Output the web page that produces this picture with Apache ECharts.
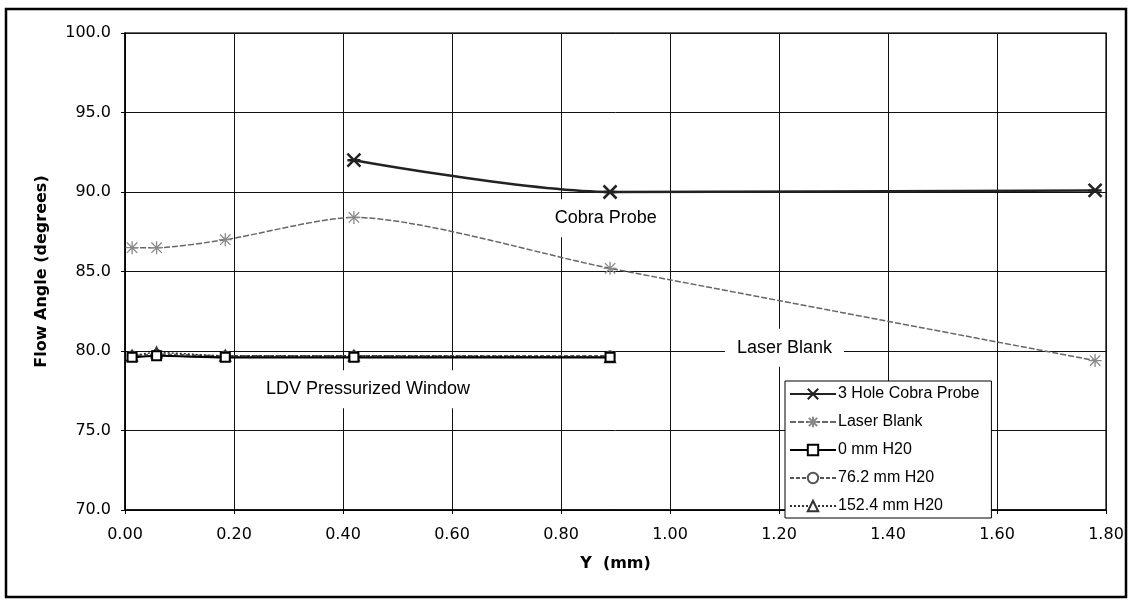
<!DOCTYPE html>
<html>
<head>
<meta charset="utf-8">
<script src="https://cdn.jsdelivr.net/npm/echarts@6/dist/echarts.min.js"></script>
<style>
html,body{margin:0;padding:0;background:#fff;}
#chart{width:1128px;height:600px;}
</style>
</head>
<body>
<div id="chart"></div>
<script>
// ---- data ----
const xCobra = [0.42, 0.89, 1.78];
const cobra = [92.0, 90.0, 90.1];

const xLaser = [0.013, 0.058, 0.184, 0.42, 0.89, 1.78];
const laser = [86.5, 86.5, 87.0, 88.4, 85.2, 79.4];

const xLdv = [0.013, 0.058, 0.184, 0.42, 0.89];
const h0 = [79.6, 79.7, 79.6, 79.6, 79.6];
const h76 = [79.7, 79.8, 79.7, 79.7, 79.7];
const h152 = [79.7, 79.9, 79.7, 79.7, 79.6];

const seriesNames = ['3 Hole Cobra Probe', 'Laser Blank', '0 mm H20', '76.2 mm H20', '152.4 mm H20'];
const xTitle = 'Y  (mm)';
const yTitle = 'Flow Angle (degrees)';

const notes = [
  {text: 'Cobra Probe', x: 0.882, y: 88.35},
  {text: 'Laser Blank', x: 1.21, y: 80.2},
  {text: 'LDV Pressurized Window', x: 0.446, y: 77.6}
];
// ---------------------------------------

const pair = (xs, ys) => xs.map((x, i) => [x, ys[i]]);
const starPath = 'path://M0,0L10,10M10,0L0,10M0,5L10,5';
const starPath2 = 'path://M1,1L9,9M9,1L1,9M0,5L10,5M5,0L5,10';

const chart = echarts.init(document.getElementById('chart'), null, {renderer: 'canvas'});

const tickFont = {color: '#000', fontFamily: 'DejaVu Sans', fontSize: 16};
const titleFont = {color: '#000', fontFamily: 'DejaVu Sans', fontWeight: 'bold', fontSize: 16};

const option = {
  animation: false,
  backgroundColor: '#fff',
  grid: {left: 125, right: 22, top: 33, bottom: 90, show: true, borderColor: '#333', borderWidth: 1.5},
  xAxis: {
    type: 'value', min: 0, max: 1.8, interval: 0.2,
    name: xTitle, nameLocation: 'middle', nameGap: 46,
    nameTextStyle: titleFont,
    axisLine: {show: true, lineStyle: {color: '#000', width: 1.5}},
    axisTick: {show: true, length: 4, lineStyle: {color: '#000'}},
    axisLabel: Object.assign({margin: 17, formatter: v => v.toFixed(2)}, tickFont),
    splitLine: {show: true, lineStyle: {color: '#111', width: 1}}
  },
  yAxis: {
    type: 'value', min: 70, max: 100, interval: 5,
    name: yTitle, nameLocation: 'middle', nameGap: 75, nameRotate: 90,
    nameTextStyle: titleFont,
    axisLine: {show: true, lineStyle: {color: '#000', width: 1.5}},
    axisTick: {show: true, length: 4, lineStyle: {color: '#000'}},
    axisLabel: Object.assign({margin: 14, formatter: v => v.toFixed(1)}, tickFont),
    splitLine: {show: true, lineStyle: {color: '#111', width: 1}}
  },
  legend: {
    orient: 'vertical', left: 785, top: 381,
    backgroundColor: '#fff', borderColor: '#000', borderWidth: 1,
    padding: [5, 12, 4, 4],
    itemWidth: 46, itemHeight: 13, itemGap: 12,
    textStyle: {color: '#000', fontFamily: 'Liberation Sans', fontSize: 16, padding: [0, 0, 0, -3]},
    data: seriesNames,
    z: 20
  },
  series: [
    {
      name: seriesNames[0], type: 'line', smooth: 0.3, data: pair(xCobra, cobra),
      symbol: starPath, symbolSize: 13,
      lineStyle: {color: '#222', width: 2.5},
      itemStyle: {color: '#222', borderColor: '#222', borderWidth: 2.5},
      z: 5
    },
    {
      name: seriesNames[1], type: 'line', smooth: 0.25, data: pair(xLaser, laser),
      symbol: starPath2, symbolSize: 13,
      lineStyle: {color: '#666', width: 1.5, type: [6, 2]},
      itemStyle: {color: '#888', borderColor: '#888', borderWidth: 1.3},
      z: 4
    },
    {
      name: seriesNames[2], type: 'line', smooth: 0.3, data: pair(xLdv, h0),
      symbol: 'emptyRect', symbolSize: 9,
      lineStyle: {color: '#000', width: 2.2},
      itemStyle: {color: '#000', borderColor: '#000', borderWidth: 1.5},
      z: 6
    },
    {
      name: seriesNames[3], type: 'line', smooth: 0.3, data: pair(xLdv, h76),
      symbol: 'emptyCircle', symbolSize: 9,
      lineStyle: {color: '#555', width: 1.5, type: [4, 2]},
      itemStyle: {color: '#555', borderColor: '#555', borderWidth: 1.5},
      z: 5
    },
    {
      name: seriesNames[4], type: 'line', smooth: 0.3, data: pair(xLdv, h152),
      symbol: 'emptyTriangle', symbolSize: 10,
      lineStyle: {color: '#333', width: 1.5, type: [2, 2]},
      itemStyle: {color: '#333', borderColor: '#333', borderWidth: 1.5},
      z: 5
    }
  ]
};

chart.setOption(option);

const graphics = notes.map(n => {
  const p = chart.convertToPixel({gridIndex: 0}, [n.x, n.y]);
  return {
    type: 'text', x: p[0], y: p[1], z: 3,
    style: {
      text: n.text, font: '18px "Liberation Sans", Arial, sans-serif', fill: '#000',
      align: 'center', verticalAlign: 'middle',
      backgroundColor: '#fff', padding: [10, 12]
    }
  };
});
graphics.push({
  type: 'rect', z: 30, silent: true,
  shape: {x: 6, y: 9, width: 1120, height: 588},
  style: {fill: 'none', stroke: '#000', lineWidth: 2.5}
});
chart.setOption({graphic: graphics});
</script>
</body>
</html>
